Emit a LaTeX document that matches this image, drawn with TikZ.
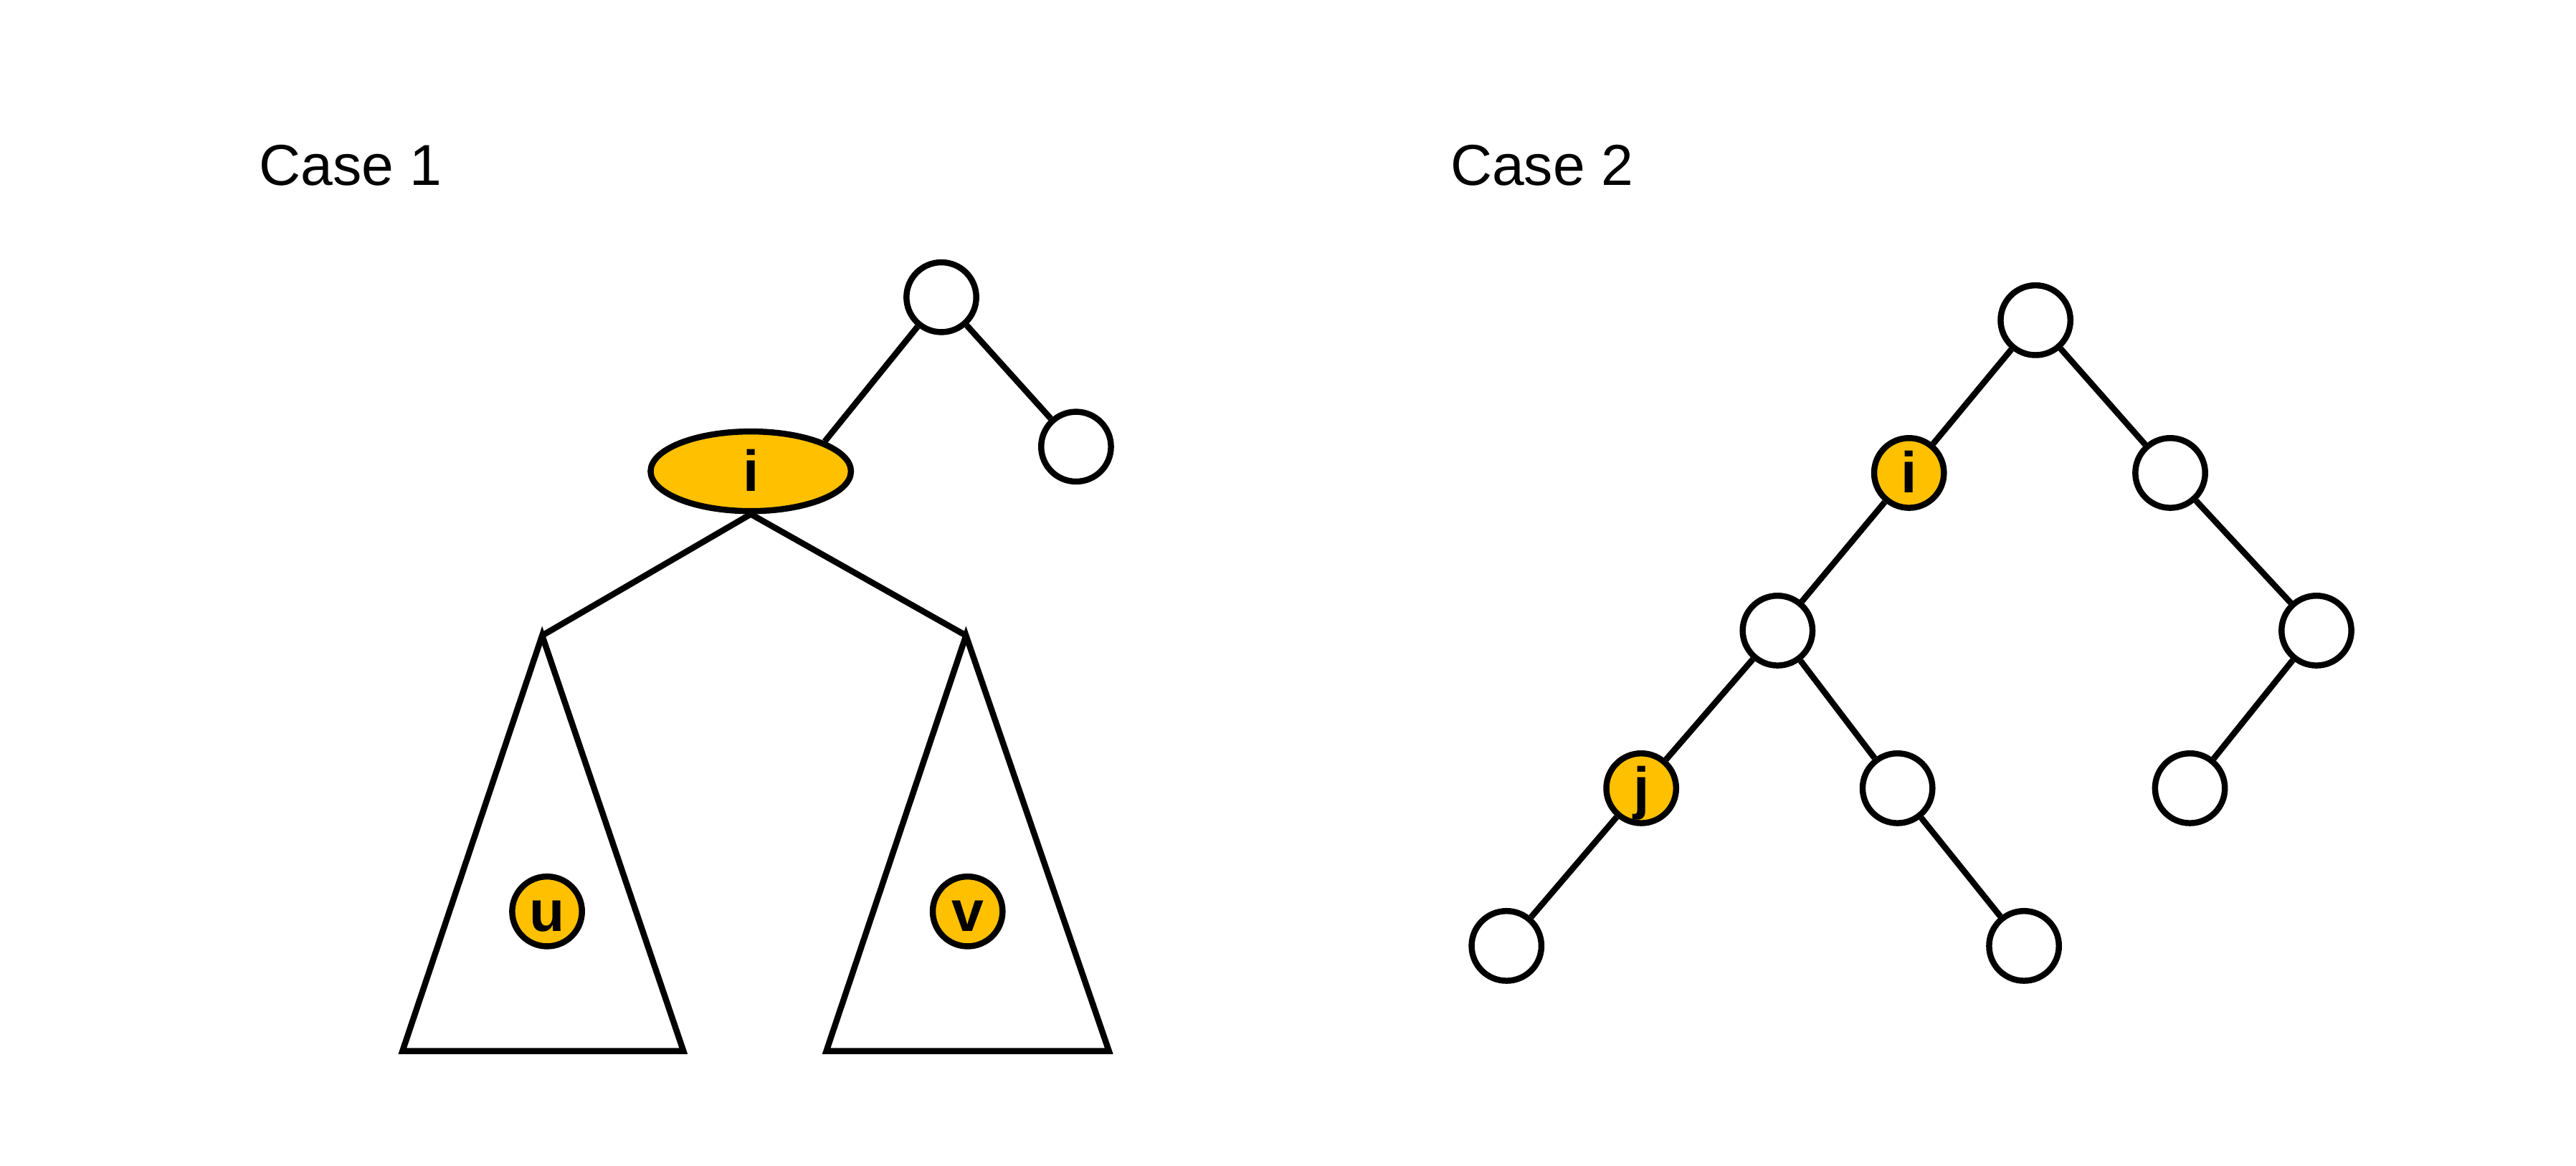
\documentclass[tikz,border=0pt]{standalone}
\usepackage{fontspec}
\setmainfont{Liberation Sans}
\usetikzlibrary{shapes.geometric}
\definecolor{gold}{HTML}{FFC000}

\begin{document}
\begin{tikzpicture}[
  x=0.02cm, y=-0.02cm,
  line width=2.1pt,
  label font/.style={font=\fontsize{20}{24}\selectfont\bfseries, text height=13.6pt, text depth=0pt},
  vertex/.style={circle, draw, fill=white, minimum size=0.85cm, inner sep=0pt, label font},
  marked/.style={vertex, fill=gold},
  bignode/.style={ellipse, draw, fill=gold, minimum width=2.44cm, minimum height=0.97cm, inner sep=0pt, label font},
  title/.style={anchor=base west, inner sep=0pt, font=\fontsize{20}{24}\selectfont},
  subtree/.style={line join=miter}
]

\useasboundingbox (0,0) rectangle (1568,709.6);

% Titles
\node[title] (case1) at (156,113) {Case 1};
\node[title] (case2) at (881,113) {Case 2};

% Case 1 nodes
\node[vertex] (root1) at (573,181) {};
\node[vertex] (r1) at (655,272) {};
\node[bignode] (i1) at (457,287) {i};
\coordinate (lapex) at (330,387);
\coordinate (rapex) at (588,387);

% Case 1 subtrees
\draw[subtree] (lapex) -- (245,640) -- (416,640) -- cycle;
\draw[subtree] (rapex) -- (503,640) -- (675,640) -- cycle;
\node[marked] (u) at (333,555) {u};
\node[marked] (v) at (589,555) {v};

% Case 1 connections
\draw (root1) -- (i1.22);
\draw (root1) -- (r1);
\draw (i1.south) -- (lapex);
\draw (i1.south) -- (rapex);

% Case 2 nodes
\node[vertex] (root2) at (1239,195) {};
\node[marked] (i2) at (1162,288) {i};
\node[vertex] (r2) at (1321,288) {};
\node[vertex] (il) at (1082,384) {};
\node[vertex] (rr) at (1410,384) {};
\node[marked] (j) at (999,480) {j};
\node[vertex] (ilr) at (1155,480) {};
\node[vertex] (rrl) at (1333,480) {};
\node[vertex] (jl) at (917,576) {};
\node[vertex] (ilrr) at (1232,576) {};

% Case 2 connections
\draw (root2) -- (i2);
\draw (root2) -- (r2);
\draw (i2) -- (il);
\draw (r2) -- (rr);
\draw (il) -- (j);
\draw (il) -- (ilr);
\draw (rr) -- (rrl);
\draw (j) -- (jl);
\draw (ilr) -- (ilrr);

\end{tikzpicture}
\end{document}
